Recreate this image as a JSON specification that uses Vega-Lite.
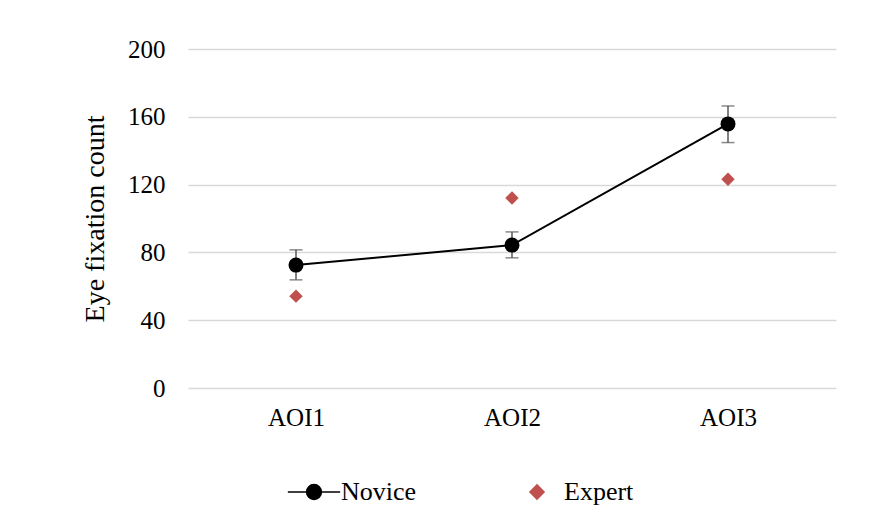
{
  "$schema": "https://vega.github.io/schema/vega-lite/v6.json",
  "width": 648,
  "height": 339,
  "autosize": {"type": "none"},
  "padding": {"left": 188, "top": 49, "right": 46, "bottom": 133},
  "background": "white",
  "config": {
    "font": "Liberation Serif",
    "view": {"stroke": null},
    "axis": {"labelFont": "Liberation Serif", "titleFont": "Liberation Serif", "labelColor": "#000000", "titleColor": "#000000"}
  },
  "data": {
    "values": [
      {"aoi": "AOI1", "series": "Novice", "value": 72.5, "lo": 63.8, "hi": 81.5},
      {"aoi": "AOI2", "series": "Novice", "value": 84.3, "lo": 76.8, "hi": 92.1},
      {"aoi": "AOI3", "series": "Novice", "value": 155.8, "lo": 144.8, "hi": 166.4},
      {"aoi": "AOI1", "series": "Expert", "value": 54.2, "lo": null, "hi": null},
      {"aoi": "AOI2", "series": "Expert", "value": 112.1, "lo": null, "hi": null},
      {"aoi": "AOI3", "series": "Expert", "value": 123.2, "lo": null, "hi": null}
    ]
  },
  "encoding": {
    "x": {
      "field": "aoi", "type": "nominal",
      "scale": {"type": "point", "padding": 0.5},
      "axis": {"title": null, "labelAngle": 0, "labelFontSize": 25, "ticks": false, "domain": false, "grid": false, "labelPadding": 17}
    }
  },
  "layer": [
    {
      "transform": [{"filter": "datum.series === 'Novice'"}],
      "mark": {"type": "rule", "color": "#595959", "strokeWidth": 1.5},
      "encoding": {
        "y": {"field": "lo", "type": "quantitative"},
        "y2": {"field": "hi"}
      }
    },
    {
      "transform": [{"filter": "datum.series === 'Novice'"}],
      "mark": {"type": "tick", "color": "#595959", "size": 13, "thickness": 1.5, "orient": "horizontal"},
      "encoding": {"y": {"field": "lo", "type": "quantitative"}}
    },
    {
      "transform": [{"filter": "datum.series === 'Novice'"}],
      "mark": {"type": "tick", "color": "#595959", "size": 13, "thickness": 1.5, "orient": "horizontal"},
      "encoding": {"y": {"field": "hi", "type": "quantitative"}}
    },
    {
      "transform": [{"filter": "datum.series === 'Novice'"}],
      "mark": {"type": "line", "color": "#000000", "strokeWidth": 2},
      "encoding": {"y": {"field": "value", "type": "quantitative"}}
    },
    {
      "transform": [{"filter": "datum.series === 'Novice'"}],
      "mark": {"type": "point", "filled": true, "opacity": 1, "shape": "circle", "size": 225, "color": "#000000"},
      "encoding": {"y": {"field": "value", "type": "quantitative"}}
    },
    {
      "transform": [{"filter": "datum.series === 'Expert'"}],
      "mark": {"type": "point", "filled": true, "opacity": 1, "strokeWidth": 0},
      "encoding": {
        "y": {
          "field": "value", "type": "quantitative",
          "scale": {"domain": [0, 200]},
          "axis": {
            "title": "Eye fixation count", "titleFontSize": 28, "titleFontWeight": "normal", "titlePadding": 18,
            "values": [0, 40, 80, 120, 160, 200],
            "labelFontSize": 25, "labelPadding": 23, "ticks": false, "domain": false,
            "grid": true, "gridColor": "#d9d9d9", "gridWidth": 1.3
          }
        },
        "color": {
          "field": "series", "type": "nominal",
          "scale": {"domain": ["Novice", "Expert"], "range": ["#000000", "#C0504D"]},
          "legend": {
            "title": null, "orient": "none", "direction": "horizontal",
            "legendX": 113, "legendY": 430,
            "labelFontSize": 26, "labelFont": "Liberation Serif", "labelColor": "#000000",
            "labelOffset": 14, "columnPadding": 107, "symbolSize": 200,
            "symbolStrokeWidth": 1.5
          }
        },
        "stroke": {
          "field": "series", "type": "nominal",
          "scale": {"domain": ["Novice", "Expert"], "range": ["#000000", "#C0504D"]},
          "legend": {
            "title": null, "orient": "none", "direction": "horizontal",
            "legendX": 113, "legendY": 430,
            "labelFontSize": 26, "labelFont": "Liberation Serif", "labelColor": "#000000",
            "labelOffset": 14, "columnPadding": 107, "symbolSize": 200,
            "symbolStrokeWidth": 1.5
          }
        },
        "shape": {
          "field": "series", "type": "nominal",
          "scale": {"domain": ["Novice", "Expert"], "range": ["M-3.7,0H3.7M-1.05,0A1.05,1.05 0 1,0 1.05,0A1.05,1.05 0 1,0 -1.05,0Z", "diamond"]},
          "legend": {
            "title": null, "orient": "none", "direction": "horizontal",
            "legendX": 113, "legendY": 430,
            "labelFontSize": 26, "labelFont": "Liberation Serif", "labelColor": "#000000",
            "labelOffset": 14, "columnPadding": 107, "symbolSize": 200,
            "symbolStrokeWidth": 1.5
          }
        },
        "size": {"value": 180}
      }
    }
  ]
}
